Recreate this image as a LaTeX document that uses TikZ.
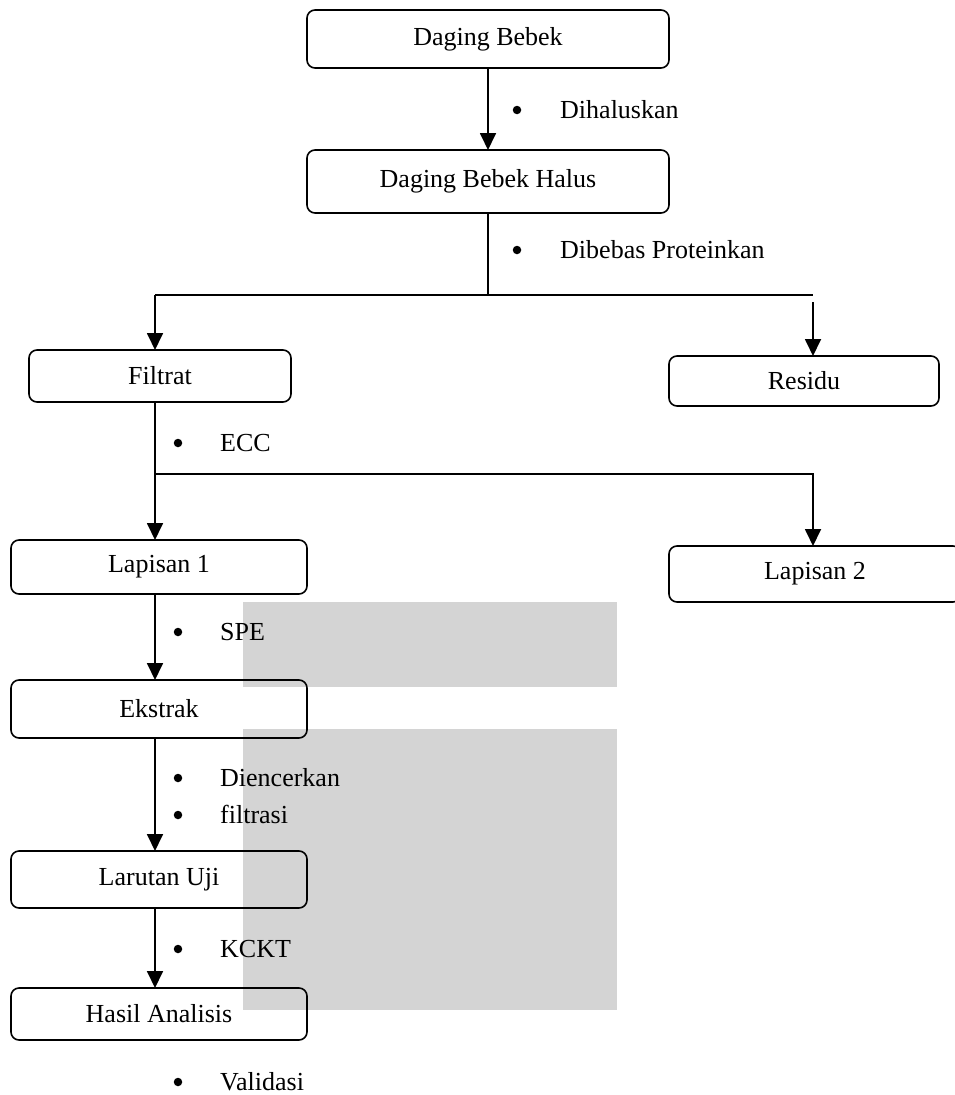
\documentclass[tikz,border=0pt]{standalone}
\usepackage{fontspec}
\setmainfont{Liberation Serif}
\usetikzlibrary{arrows.meta}
\definecolor{wm}{RGB}{212,212,212}
\begin{document}
\begin{tikzpicture}[x=1pt,y=-1pt,
  font=\fontsize{26}{31}\selectfont,
  box/.style={draw, rounded corners=8pt, line width=1.6pt, inner sep=0pt, outer sep=0pt},
  con/.style={line width=1.6pt},
  arr/.style={line width=1.8pt, -{Triangle[length=17pt,width=16pt]}},
  bul/.style={circle, fill=black, inner sep=0pt, minimum size=8.5pt},
  lab/.style={anchor=base west, inner sep=0pt}]
\useasboundingbox (0,0) rectangle (955,1095);
\clip (0,0) rectangle (955,1095);
% faint background blocks of the scan
\fill[wm] (243,602) rectangle (617,687);
\fill[wm] (243,729) rectangle (617,1010);
% boxes
\node[box, minimum width=362pt, minimum height=58pt] (top) at (488,39) {Daging Bebek};
\node[box, minimum width=362pt, minimum height=63pt] (halus) at (488,181.5) {Daging Bebek Halus};
\node[box, minimum width=262pt, minimum height=52pt] (filtrat) at (160,376) {Filtrat};
\node[box, minimum width=270pt, minimum height=50pt] (residu) at (804,381) {Residu};
\node[box, minimum width=296pt, minimum height=54pt] (lap1) at (159,567) {Lapisan 1};
\node[box, minimum width=292pt, minimum height=56pt] (lap2) at (815,574) {Lapisan 2};
\node[box, minimum width=296pt, minimum height=58pt] (ekstrak) at (159,709) {Ekstrak};
\node[box, minimum width=296pt, minimum height=57pt] (larutan) at (159,879.5) {Larutan Uji};
\node[box, minimum width=296pt, minimum height=52pt] (hasil) at (159,1014) {Hasil Analisis};
% junction coordinates
\coordinate (j1) at (488,295);
\coordinate (jL) at (155,295);
\coordinate (jR) at (813,295);
\coordinate (jR2) at (813,302);
\coordinate (k) at (155,474);
\coordinate (kR) at (813,474);
% connectors
\draw[arr] (top) -- (halus);
\draw[con] (halus.south) -- (j1);
\draw[con] (jL) -- (jR);
\draw[arr] (jL) -- (jL |- filtrat.north);
\draw[arr] (jR2) -- (jR2 |- residu.north);
\draw[arr] (jL |- filtrat.south) -- (jL |- lap1.north);
\draw[arr] (k) -- (kR) -- (kR |- lap2.north);
\draw[arr] (jL |- lap1.south) -- (jL |- ekstrak.north);
\draw[arr] (jL |- ekstrak.south) -- (jL |- larutan.north);
\draw[arr] (jL |- larutan.south) -- (jL |- hasil.north);
% labels
\node[bul] (b1) at (517,110) {};
\node[lab] (t1) at (560,118) {Dihaluskan};
\node[bul] (b2) at (517,250) {};
\node[lab] (t2) at (560,258) {Dibebas Proteinkan};
\node[bul] (b3) at (178,443) {};
\node[lab] (t3) at (220,451) {ECC};
\node[bul] (b4) at (178,632) {};
\node[lab] (t4) at (220,640) {SPE};
\node[bul] (b5) at (178,778) {};
\node[lab] (t5) at (220,786) {Diencerkan};
\node[bul] (b6) at (178,815) {};
\node[lab] (t6) at (220,823) {filtrasi};
\node[bul] (b7) at (178,949) {};
\node[lab] (t7) at (220,957) {KCKT};
\node[bul] (b8) at (178,1082) {};
\node[lab] (t8) at (220,1090) {Validasi};
\end{tikzpicture}
\end{document}
